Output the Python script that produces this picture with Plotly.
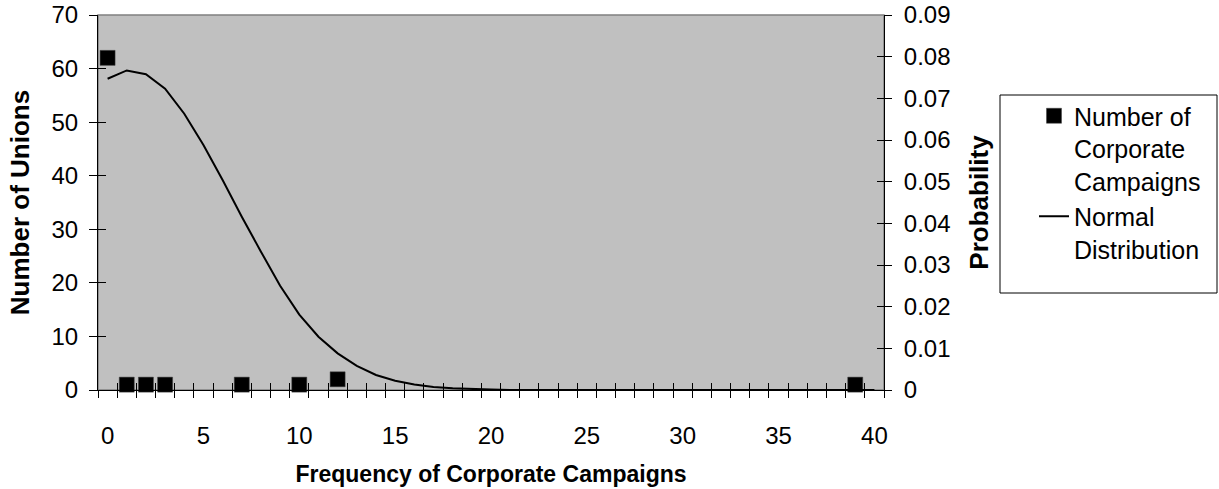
import plotly.graph_objects as go

# Observed counts: number of unions by frequency of corporate campaigns
campaign_freq = [0, 1, 2, 3, 7, 10, 12, 39]
union_counts = [62, 1, 1, 1, 1, 1, 2, 1]

# Fitted normal distribution, probability at each frequency 0..40
normal_x = list(range(0, 41))
normal_prob = [
    0.0747, 0.0767, 0.0758, 0.0723, 0.0663, 0.0588, 0.0504, 0.0416, 0.0332, 0.0250,
    0.0181, 0.0128, 0.0088, 0.0058, 0.0036, 0.0022, 0.0013, 0.0007, 0.0004, 0.0002,
    0.0001, 0.0, 0.0, 0.0, 0.0, 0.0, 0.0, 0.0, 0.0, 0.0,
    0.0, 0.0, 0.0, 0.0, 0.0, 0.0, 0.0, 0.0, 0.0, 0.0, 0.0,
]

x_label_vals = [0, 5, 10, 15, 20, 25, 30, 35, 40]
x_range = [-0.5, 40.5]
left_range = [0, 70]
right_range = [0, 0.09]

FONT = "Liberation Sans, Arial, sans-serif"
W, H = 1219, 489
ML, MR, MT, MB = 98, 335, 15, 99
PW, PH = W - ML - MR, H - MT - MB
CLEAR = "rgba(0,0,0,0)"


def px_x(p):
    return (p - ML) / PW


def px_y(p):
    return (H - MB - p) / PH


fig = go.Figure()

fig.add_trace(go.Scatter(
    x=campaign_freq, y=union_counts, mode="markers",
    name="Number of<br>Corporate<br>Campaigns",
    marker=dict(symbol="square", size=15, color="black",
                line=dict(color="#404040", width=0.5)),
    cliponaxis=False, xaxis="x", yaxis="y",
))

fig.add_trace(go.Scatter(
    x=normal_x, y=normal_prob, mode="lines",
    name="Normal<br>Distribution",
    line=dict(color="black", width=2),
    xaxis="x2", yaxis="y2",
))

# empty traces that register the tick-only overlay axes
for ya in ["y3", "y4", "y5", "y6"]:
    fig.add_trace(go.Scatter(x=[], y=[], xaxis="x3", yaxis=ya,
                             showlegend=False, hoverinfo="skip"))

tick_font = dict(family=FONT, size=24, color="black")
title_font = dict(family=FONT, size=26, color="black")
plain = dict(showgrid=False, zeroline=False, automargin=False)
tick_only = dict(showticklabels=False, showline=False, tickcolor="black",
                 tickwidth=1, **plain)

fig.update_layout(
    width=W, height=H,
    margin=dict(l=ML, r=MR, t=MT, b=MB, autoexpand=False),
    paper_bgcolor="white",
    plot_bgcolor="#C0C0C0",
    font=dict(family=FONT, color="black"),
    showlegend=True,
    legend=dict(
        x=px_x(1034), y=px_y(93), xanchor="left", yanchor="top",
        bgcolor=CLEAR, borderwidth=0,
        font=dict(family=FONT, size=25, color="black"),
        valign="top", tracegroupgap=0,
    ),
    # labelled axes (tick marks transparent; they only set label spacing)
    xaxis=dict(
        range=x_range, domain=[0, 1], anchor="y",
        tickmode="array", tickvals=x_label_vals, ticks="outside",
        ticklen=24, tickcolor=CLEAR, tickfont=tick_font,
        showline=True, linecolor="black", linewidth=1,
        title=dict(text="<b>Frequency of Corporate Campaigns</b>",
                   font=dict(family=FONT, size=23, color="black"), standoff=18),
        **plain,
    ),
    yaxis=dict(
        range=left_range, anchor="x", side="left",
        tickmode="linear", tick0=0, dtick=10, ticks="outside",
        ticklen=14, tickcolor=CLEAR, tickfont=tick_font,
        showline=True, linecolor="black", linewidth=1,
        title=dict(text="<b>Number of Unions</b>", font=title_font, standoff=14),
        **plain,
    ),
    yaxis2=dict(
        range=right_range, overlaying="y", anchor="x2", side="right",
        tickmode="linear", tick0=0, dtick=0.01, ticks="outside",
        ticklen=14, tickcolor=CLEAR, tickfont=tick_font,
        showline=True, linecolor="black", linewidth=1,
        title=dict(text="<b>Probability</b>", font=title_font, standoff=20),
        **plain,
    ),
    # category-boundary tick marks crossing the x axis
    xaxis2=dict(
        range=x_range, overlaying="x", anchor="y2", side="bottom",
        tickmode="linear", tick0=-0.5, dtick=1, ticks="outside", ticklen=7,
        **tick_only,
    ),
    xaxis3=dict(
        range=x_range, overlaying="x", anchor="y3", side="bottom",
        tickmode="linear", tick0=-0.5, dtick=1, ticks="inside", ticklen=7,
        **tick_only,
    ),
    # tick marks crossing the left value axis
    yaxis3=dict(
        range=left_range, overlaying="y", anchor="x3", side="left",
        tickmode="linear", tick0=0, dtick=10, ticks="outside", ticklen=8,
        **tick_only,
    ),
    yaxis4=dict(
        range=left_range, overlaying="y", anchor="x3", side="left",
        tickmode="linear", tick0=0, dtick=10, ticks="inside", ticklen=8,
        **tick_only,
    ),
    # tick marks crossing the right probability axis
    yaxis5=dict(
        range=right_range, overlaying="y", anchor="x3", side="right",
        tickmode="linear", tick0=0, dtick=0.01, ticks="outside", ticklen=7,
        **tick_only,
    ),
    yaxis6=dict(
        range=right_range, overlaying="y", anchor="x3", side="right",
        tickmode="linear", tick0=0, dtick=0.01, ticks="inside", ticklen=7,
        **tick_only,
    ),
    shapes=[
        # plot-area border
        dict(type="rect", xref="x domain", yref="y domain", x0=0, x1=1, y0=0, y1=1,
             line=dict(color="#808080", width=1.5), layer="below"),
        # legend frame
        dict(type="rect", xref="paper", yref="paper",
             x0=px_x(1000), x1=px_x(1217), y0=px_y(95), y1=px_y(293),
             line=dict(color="black", width=1), fillcolor="white", layer="below"),
    ],
)

fig.write_html("out.html")
